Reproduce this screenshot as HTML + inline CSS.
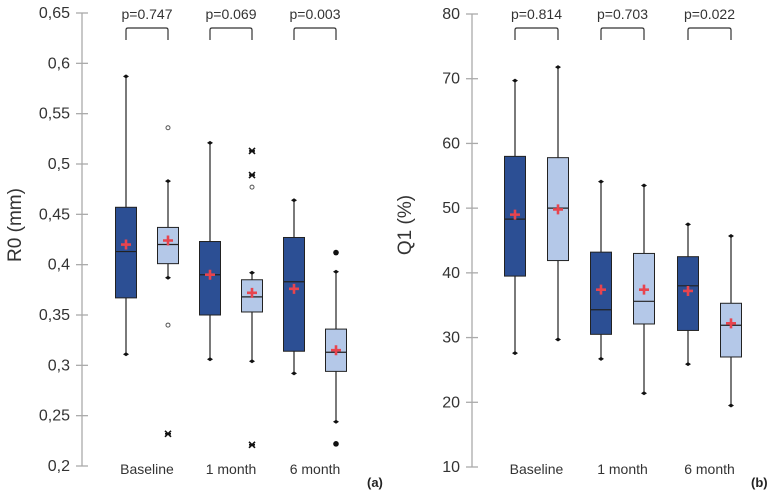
<!DOCTYPE html>
<html><head><meta charset="utf-8"><style>
body{margin:0;background:#fff;width:774px;height:494px;overflow:hidden}
svg{font-family:"Liberation Sans",sans-serif}
</style></head><body>
<svg id="c" width="774" height="494"></svg>
<script>
const categories=["Baseline","1 month","6 month"];
const pLeft=["p=0.747","p=0.069","p=0.003"];
const pRight=["p=0.814","p=0.703","p=0.022"];
const ticksLeft=[0.2,0.25,0.3,0.35,0.4,0.45,0.5,0.55,0.6,0.65];
const ticksRight=[10,20,30,40,50,60,70,80];
// [whiskerHigh, q3, median, q1, whiskerLow, mean]
const leftDark=[[0.587,0.457,0.413,0.367,0.311,0.420],[0.521,0.423,0.390,0.350,0.306,0.390],[0.464,0.427,0.383,0.314,0.292,0.376]];
const leftLight=[[0.483,0.437,0.420,0.401,0.387,0.424],[0.392,0.385,0.368,0.353,0.304,0.372],[0.393,0.336,0.313,0.294,0.244,0.315]];
const rightDark=[[69.7,58.0,48.3,39.5,27.6,49.0],[54.1,43.2,34.3,30.5,26.7,37.4],[47.5,42.5,38.0,31.1,25.9,37.2]];
const rightLight=[[71.8,57.8,50.0,41.9,29.7,49.8],[53.5,43.0,35.6,32.1,21.4,37.4],[45.7,35.3,31.9,27.0,19.5,32.2]];
// outliers: [categoryIndex, value, type]
const leftLightOutliers=[[0,0.536,"o"],[0,0.340,"o"],[0,0.232,"x"],[1,0.513,"x"],[1,0.489,"x"],[1,0.477,"o"],[1,0.221,"x"],[2,0.412,"d"],[2,0.222,"d"]];
const NS="http://www.w3.org/2000/svg";
const svg=document.getElementById('c');
function mk(t,a,p){const e=document.createElementNS(NS,t);for(const k in a)e.setAttribute(k,a[k]);(p||svg).appendChild(e);return e;}
function panel(o){
  const g=mk('g',{});
  
  
  const y=v=>o.y0+(v-o.min)/(o.max-o.min)*(o.y1-o.y0);
  const ax=mk('line',{x1:o.ax,x2:o.ax,y1:y(o.max),y2:y(o.min),stroke:'#aaa','stroke-width':1.3},g);
  
  o.ticks.forEach(t=>{
    mk('line',{x1:o.ax-6,x2:o.ax+6,y1:y(t),y2:y(t),stroke:'#aaa','stroke-width':1.3},g);
    const tx=mk('text',{x:o.ax-12,y:y(t)+5,'text-anchor':'end','font-size':16,fill:'#333'},g);
    tx.textContent=o.fmt(t);
    
  });
  const tt=mk('text',{transform:`translate(${o.tx},225) rotate(-90)`,'text-anchor':'middle','font-size':19,fill:'#333'},g);
  tt.textContent=o.title;
  const box=(cx,d,fill,nm)=>{
    const bg=mk('g',{},g);
    mk('line',{x1:cx,x2:cx,y1:y(d[0]),y2:y(d[4]),stroke:'#222','stroke-width':1.2},bg);
    mk('rect',{x:cx-10.5,y:y(d[1]),width:21,height:y(d[3])-y(d[1]),fill:fill,stroke:'#222','stroke-width':1},bg);
    mk('line',{x1:cx-10.5,x2:cx+10.5,y1:y(d[2]),y2:y(d[2]),stroke:'#222','stroke-width':1.2},bg);
    [d[0],d[4]].forEach(v=>mk('path',{d:`M${cx-3} ${y(v)}L${cx} ${y(v)-2}L${cx+3} ${y(v)}L${cx} ${y(v)+2}Z`,fill:'#111'},bg));
    const m=y(d[5]);
    mk('path',{d:`M${cx-5} ${m}H${cx+5}M${cx} ${m-5}V${m+5}`,stroke:'#e8444e','stroke-width':2.6},bg);
  };
  categories.forEach((c,i)=>{
    const xd=o.cx[i],xl=o.cx[i]+o.gap;
    box(xd,o.dark[i],'#2c4f94','box-dark-'+i);
    box(xl,o.light[i],'#b4c8e8','box-light-'+i);
    const l=mk('text',{x:(xd+xl)/2,y:474,'text-anchor':'middle','font-size':14,fill:'#333'},g);
    l.textContent=c;
    const p=mk('text',{x:(xd+xl)/2,y:19,'text-anchor':'middle','font-size':14,fill:'#333'},g);
    p.textContent=o.p[i];
    const br=mk('path',{d:`M${xd} 40V30Q${xd} 28 ${xd+2} 28H${xl-2}Q${xl} 28 ${xl} 30V40`,fill:'none',stroke:'#333','stroke-width':1.2},g);
    
  });
  (o.out||[]).forEach(r=>{
    const cx=o.cx[r[0]]+o.gap,cy=y(r[1]);
    if(r[2]==='o'){const e=mk('circle',{cx:cx,cy:cy,r:2,fill:'none',stroke:'#555','stroke-width':1},g);}
    else if(r[2]==='d'){const e=mk('circle',{cx:cx,cy:cy,r:2.8,fill:'#111'},g);}
    else{const e=mk('path',{d:`M${cx-3} ${cy-3}L${cx+3} ${cy+3}M${cx+3} ${cy-3}L${cx-3} ${cy+3}M${cx-3} ${cy}H${cx+3}`,stroke:'#111','stroke-width':1.6},g);}
  });
  const lb=mk('text',{x:o.lx,y:487,'font-size':13,'font-weight':'bold',fill:'#222'},g);
  lb.textContent=o.label;
}
panel({name:'panel-a',ax:82,min:0.2,max:0.65,y0:466,y1:13,ticks:ticksLeft,fmt:v=>String(+v.toFixed(2)).replace('.',','),title:'R0 (mm)',tx:21,cx:[126,210,294],gap:42,dark:leftDark,light:leftLight,p:pLeft,out:leftLightOutliers,label:'(a)',lx:367});
panel({name:'panel-b',ax:472,min:10,max:80,y0:467,y1:14,ticks:ticksRight,fmt:v=>String(v),title:'Q1 (%)',tx:411,cx:[515,601,688],gap:43,dark:rightDark,light:rightLight,p:pRight,out:[],label:'(b)',lx:751});
</script>
</body></html>
